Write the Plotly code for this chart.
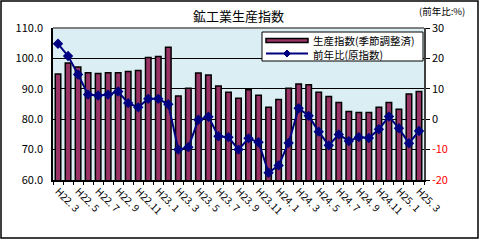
import plotly.graph_objects as go

# ---- data ----
months = [f"H{22 + (m + 2) // 12}.{(m + 2) % 12 + 1}" for m in range(37)]
label_months = ["H22. 3", "H22. 5", "H22. 7", "H22. 9", "H22.11", "H23. 1", "H23. 3", "H23. 5",
                "H23. 7", "H23. 9", "H23.11", "H24. 1", "H24. 3", "H24. 5", "H24. 7", "H24. 9",
                "H24.11", "H25. 1", "H25. 3"]
index_sa = [94.9, 98.5, 97.2, 95.3, 95.0, 95.3, 95.3, 95.7, 96.0, 100.3, 100.6, 103.7,
            87.6, 90.2, 95.2, 94.5, 90.9, 88.9, 86.9, 89.7, 87.9, 83.9, 86.5, 90.2,
            91.6, 91.3, 88.9, 87.5, 85.5, 82.5, 82.2, 82.2, 83.9, 85.5, 83.3, 88.3, 89.1]
yoy = [24.8, 20.8, 14.7, 8.1, 7.8, 8.1, 9.1, 5.3, 3.9, 6.7, 6.7, 4.9,
       -10.0, -9.2, -0.2, 0.8, -5.6, -5.9, -10.0, -6.3, -7.6, -17.6, -15.2, -7.8,
       3.6, 1.1, -4.1, -8.6, -5.0, -7.2, -5.9, -6.2, -3.3, 0.9, -3.0, -7.9, -3.9]
left_ticks = [60, 70, 80, 90, 100, 110]
right_ticks = [-20, -10, 0, 10, 20, 30]
series_names = ["生産指数(季節調整済)", "前年比(原指数)"]
title = "鉱工業生産指数"
unit = "(前年比:%)"

x = list(range(len(months)))
tickvals = list(range(0, len(months), 2))

FONT = "Noto Sans CJK JP"
W, H = 480, 240
L, R, T, B = 53, 424, 28, 180


def px(xp):
    return (xp - L) / (R - L)


def py(yp):
    return (B - yp) / (B - T)


fig = go.Figure()
fig.add_trace(go.Bar(x=x, y=index_sa, name=series_names[0], width=0.55,
                     marker=dict(color="#993366", line=dict(color="black", width=1.5)),
                     yaxis="y"))
fig.add_trace(go.Scatter(x=x, y=yoy, name=series_names[1], mode="lines+markers",
                         line=dict(color="#000080", width=2),
                         marker=dict(symbol="diamond", size=8, color="#000080"),
                         yaxis="y2"))

right_text = []
for v in right_ticks:
    if v < 0:
        right_text.append(f"<span style='color:red'>{v}</span>")
    else:
        right_text.append(str(v))

fig.update_layout(
    width=W, height=H,
    margin=dict(l=L, r=W - R, t=T, b=H - B, pad=0),
    paper_bgcolor="white",
    plot_bgcolor="#DAEEF3",
    showlegend=False,
    font=dict(family=FONT, size=11, color="black"),
    bargap=0.45,
    xaxis=dict(range=[-0.5, len(months) - 0.5], tickvals=tickvals, ticktext=label_months,
               tickangle=45, showline=True, linecolor="black", linewidth=1.5,
               ticks="", showgrid=False, zeroline=False,
               tickfont=dict(size=10, family=FONT),
               minor=dict(ticks="outside", tick0=0.5, dtick=1, ticklen=3,
                          tickcolor="black", showgrid=False)),
    yaxis=dict(range=[60, 110], tickvals=left_ticks,
               ticktext=[f"{v:.1f}" for v in left_ticks],
               showgrid=True, gridcolor="black", gridwidth=1,
               showline=True, linecolor="black", linewidth=1.5,
               zeroline=False, ticks="", ticklabelstandoff=6,
               tickfont=dict(size=11, family=FONT)),
    yaxis2=dict(range=[-20, 30], tickvals=right_ticks, ticktext=right_text,
                overlaying="y", side="right", showgrid=False, zeroline=False,
                showline=True, linecolor="#404040", linewidth=1.5,
                ticks="outside", ticklen=4, tickcolor="black",
                tickfont=dict(size=11, family=FONT)),
)

shapes = []
# top border of plot (gray)
shapes.append(dict(type="line", xref="paper", yref="paper", x0=0, x1=1, y0=1, y1=1,
                   line=dict(color="#808080", width=2), layer="above"))
# outer frame
shapes.append(dict(type="rect", xref="paper", yref="paper",
                   x0=px(1), x1=px(478), y0=py(1), y1=py(238),
                   line=dict(color="black", width=1.5), layer="above"))
# legend box
shapes.append(dict(type="rect", xref="paper", yref="paper",
                   x0=px(262), x1=px(423), y0=py(32), y1=py(61),
                   fillcolor="white", line=dict(color="black", width=1), layer="above"))
# legend swatch 1
shapes.append(dict(type="rect", xref="paper", yref="paper",
                   x0=px(266), x1=px(308), y0=py(38.5), y1=py(42.5),
                   fillcolor="#993366", line=dict(color="black", width=1.5), layer="above"))
# legend swatch 2
shapes.append(dict(type="line", xref="paper", yref="paper",
                   x0=px(266), x1=px(308), y0=py(53.5), y1=py(53.5),
                   line=dict(color="#000080", width=2), layer="above"))
cx, cy, d = 287, 53.5, 3.5
shapes.append(dict(type="path", xref="paper", yref="paper",
                   path=f"M {px(cx - d)} {py(cy)} L {px(cx)} {py(cy - d)} L {px(cx + d)} {py(cy)} L {px(cx)} {py(cy + d)} Z",
                   fillcolor="#000080", line=dict(color="#000080", width=1), layer="above"))
fig.update_layout(shapes=shapes)

annotations = [
    dict(text=title, x=px(238), y=py(16), xref="paper", yref="paper", showarrow=False,
         font=dict(size=13, family=FONT), xanchor="center", yanchor="middle"),
    dict(text=unit, x=px(442), y=py(11), xref="paper", yref="paper", showarrow=False,
         font=dict(size=9.5, family=FONT), xanchor="center", yanchor="middle"),
    dict(text=series_names[0], x=px(311), y=py(40), xref="paper", yref="paper", showarrow=False,
         font=dict(size=10.5, family=FONT), xanchor="left", yanchor="middle"),
    dict(text=series_names[1], x=px(311), y=py(54), xref="paper", yref="paper", showarrow=False,
         font=dict(size=10.5, family=FONT), xanchor="left", yanchor="middle"),
]
fig.update_layout(annotations=annotations)

fig.write_html("out.html")
